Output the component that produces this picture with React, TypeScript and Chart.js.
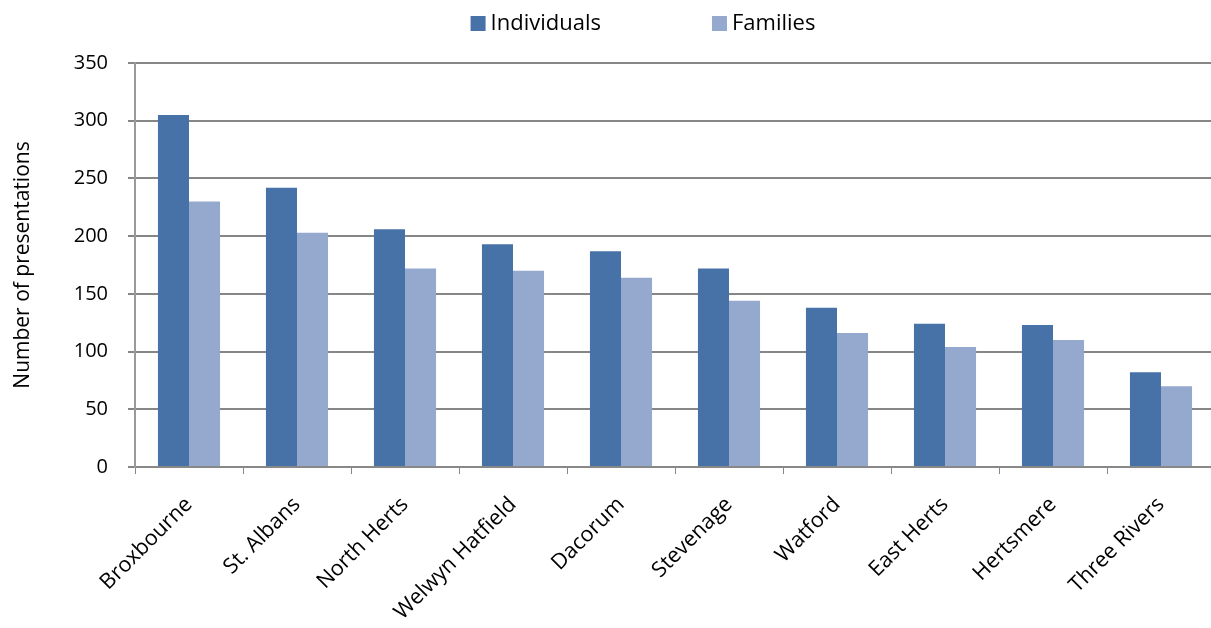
import React, { useEffect, useRef } from 'react';
import { Chart, registerables } from 'chart.js';

Chart.register(...registerables);

const categories = [
  'Broxbourne',
  'St. Albans',
  'North Herts',
  'Welwyn Hatfield',
  'Dacorum',
  'Stevenage',
  'Watford',
  'East Herts',
  'Hertsmere',
  'Three Rivers',
];
const individuals = [305, 242, 206, 193, 187, 172, 138, 124, 123, 82];
const families = [230, 203, 172, 170, 164, 144, 116, 104, 110, 70];
const yTicks = [0, 50, 100, 150, 200, 250, 300, 350];

const FONT = '"Open Sans", "Noto Sans", "DejaVu Sans", sans-serif';
const IND_COLOR = '#4672A7';
const FAM_COLOR = '#95A9CF';

const topLegend = {
  id: 'topLegend',
  afterDraw(chart: any) {
    const ctx = chart.ctx;
    ctx.save();
    ctx.font = `22px ${FONT}`;
    const items = chart.data.datasets.map((ds: any) => ({
      text: ds.label as string,
      color: ds.backgroundColor as string,
      w: ctx.measureText(ds.label).width,
    }));
    const box = 15;
    const gap = 5;
    const spacing = 111;
    const total =
      items.reduce((s: number, it: any) => s + box + gap + it.w, 0) +
      spacing * (items.length - 1);
    let x = 643 - total / 2;
    const yMid = 24;
    items.forEach((it: any) => {
      ctx.fillStyle = it.color;
      ctx.fillRect(x, yMid - 8, box, box);
      x += box + gap;
      ctx.fillStyle = '#000';
      ctx.textBaseline = 'middle';
      ctx.textAlign = 'left';
      ctx.fillText(it.text, x, yMid);
      x += it.w + spacing;
    });
    ctx.restore();
  },
};

export default function App() {
  const ref = useRef<HTMLCanvasElement>(null);

  useEffect(() => {
    document.body.style.margin = '0';
    const canvas = ref.current;
    if (!canvas) return;
    const chart = new Chart(canvas, {
      type: 'bar',
      data: {
        labels: categories,
        datasets: [
          {
            label: 'Individuals',
            data: individuals,
            backgroundColor: IND_COLOR,
            borderWidth: 0,
            categoryPercentage: 0.575,
            barPercentage: 1,
          },
          {
            label: 'Families',
            data: families,
            backgroundColor: FAM_COLOR,
            borderWidth: 0,
            categoryPercentage: 0.575,
            barPercentage: 1,
          },
        ],
      },
      options: {
        animation: false,
        responsive: false,
        devicePixelRatio: 1,
        layout: { padding: { top: 63, right: 0, left: 0, bottom: 0 } },
        plugins: {
          legend: { display: false },
          tooltip: { enabled: false },
        },
        scales: {
          x: {
            grid: {
              drawOnChartArea: false,
              drawTicks: true,
              tickLength: 7,
              color: '#888',
              lineWidth: 1,
            },
            border: { color: '#888', width: 2 },
            ticks: {
              maxRotation: 45,
              minRotation: 45,
              autoSkip: false,
              padding: 18,
              color: '#000',
              font: { family: FONT, size: 21.5 },
            },
            afterFit: (s: any) => {
              s.height = 161;
            },
          },
          y: {
            min: 0,
            max: 350,
            afterBuildTicks: (s: any) => {
              s.ticks = yTicks.map((v) => ({ value: v }));
            },
            grid: { color: '#868686', lineWidth: 2, tickLength: 7 },
            border: { color: '#9a9a9a', width: 2 },
            ticks: {
              padding: 20,
              color: '#000',
              font: { family: FONT, size: 20 },
            },
            title: {
              display: true,
              text: 'Number of presentations',
              color: '#000',
              font: { family: FONT, size: 21 },
              padding: { top: 10, bottom: 0 },
            },
            afterFit: (s: any) => {
              s.width = 135;
            },
          },
        },
      },
      plugins: [topLegend],
    });
    return () => chart.destroy();
  }, []);

  return (
    <div style={{ width: 1211, height: 628, overflow: 'hidden' }}>
      <canvas ref={ref} width={1215} height={628} style={{ display: 'block' }} />
    </div>
  );
}
